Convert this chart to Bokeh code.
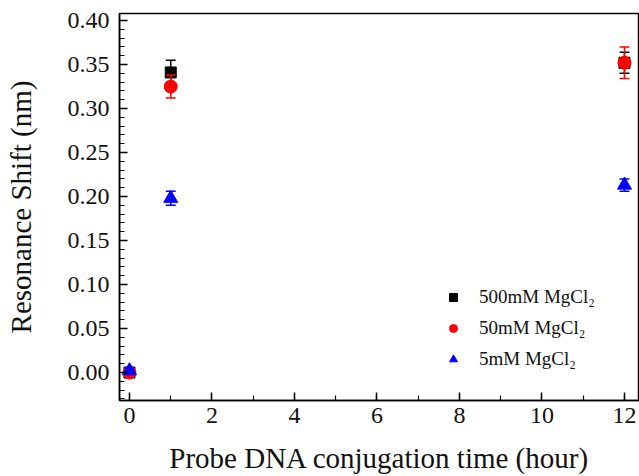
from bokeh.plotting import figure
from bokeh.models import (ColumnDataSource, Range1d, SingleIntervalTicker,
                          NumeralTickFormatter, Legend, LegendItem)
from bokeh.embed import file_html
from bokeh.resources import INLINE

# Data
times = [0, 1, 12]
y_500 = [0.000, 0.341, 0.352]
e_500 = [0.003, 0.014, 0.012]
y_50 = [0.000, 0.325, 0.352]
e_50 = [0.003, 0.013, 0.018]
y_5 = [0.002, 0.198, 0.213]
e_5 = [0.003, 0.008, 0.007]

labels = ["500mM MgCl\u2082", "50mM MgCl\u2082", "5mM MgCl\u2082"]
colors = ["black", "red", "blue"]

FONT = "Liberation Serif"

p = figure(width=639, height=476, output_backend="svg", toolbar_location=None,
           x_range=Range1d(-0.242, 12.364), y_range=Range1d(-0.0318, 0.408),
           min_border_left=119, min_border_right=0, min_border_top=13,
           min_border_bottom=76)
p.grid.visible = False
p.outline_line_color = "black"
p.outline_line_width = 1.5
p.background_fill_color = "white"
p.border_fill_color = "white"

cap = 0.12
series = [(y_500, e_500), (y_50, e_50), (y_5, e_5)]
renderers = []
for i, ((ys, es), col) in enumerate(zip(series, colors)):
    src = ColumnDataSource(dict(
        x=times, y=ys,
        lo=[y - e for y, e in zip(ys, es)],
        hi=[y + e for y, e in zip(ys, es)],
        xl=[t - cap for t in times],
        xr=[t + cap for t in times],
    ))
    if i == 0:
        r = p.scatter("x", "y", source=src, marker="square", size=11,
                      color=col)
    elif i == 1:
        r = p.scatter("x", "y", source=src, marker="circle", size=13,
                      color=col)
    else:
        r = p.scatter("x", "y", source=src, marker="triangle", size=14,
                      color=col)
    p.segment("x", "lo", "x", "hi", source=src, line_color=col, line_width=1.5)
    p.segment("xl", "lo", "xr", "lo", source=src, line_color=col, line_width=1.5)
    p.segment("xl", "hi", "xr", "hi", source=src, line_color=col, line_width=1.5)
    renderers.append(r)

legend = Legend(items=[LegendItem(label=l, renderers=[r]) for l, r in zip(labels, renderers)],
                location=(324, 30))
legend.border_line_alpha = 0
legend.background_fill_alpha = 0
legend.padding = 0
legend.margin = 0
legend.spacing = 9
legend.glyph_width = 20
legend.glyph_height = 20
legend.label_height = 20
legend.label_standoff = 16
legend.label_text_font = FONT
legend.label_text_font_size = "19px"
legend.label_text_color = "#111111"
p.add_layout(legend)

p.xaxis.ticker = SingleIntervalTicker(interval=2, num_minor_ticks=2)
p.yaxis.ticker = SingleIntervalTicker(interval=0.05, num_minor_ticks=5)
p.yaxis.formatter = NumeralTickFormatter(format="0.00")

for ax in (p.xaxis, p.yaxis):
    ax.axis_line_width = 1.5
    ax.axis_line_color = "black"
    ax.major_tick_in = 8
    ax.major_tick_out = 0
    ax.minor_tick_in = 5
    ax.minor_tick_out = 0
    ax.major_tick_line_width = 1.5
    ax.minor_tick_line_width = 1.2
    ax.major_label_text_font = FONT
    ax.major_label_text_font_size = "24px"
    ax.major_label_text_color = "#111111"
    ax.axis_label_text_font = FONT
    ax.axis_label_text_font_size = "29px"
    ax.axis_label_text_font_style = "normal"
    ax.axis_label_text_color = "#111111"

p.xaxis.axis_label = "Probe DNA conjugation time (hour)"
p.yaxis.axis_label = "Resonance Shift (nm)"
p.xaxis.major_label_standoff = 7
p.yaxis.major_label_standoff = 10
p.xaxis.axis_label_standoff = 16
p.yaxis.axis_label_standoff = 28

open("out.html", "w").write(file_html(p, INLINE))
